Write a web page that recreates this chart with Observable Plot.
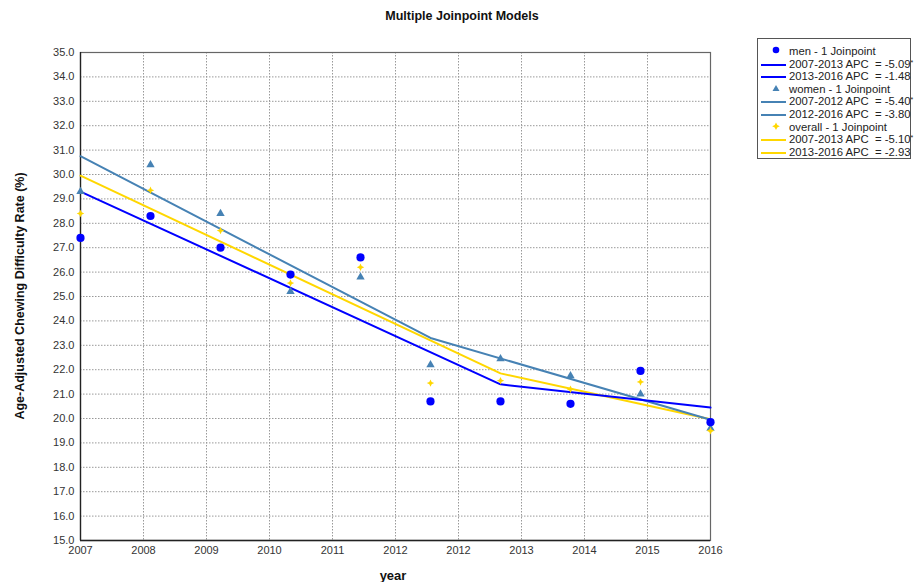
<!DOCTYPE html>
<html><head><meta charset="utf-8">
<script src="https://cdn.jsdelivr.net/npm/d3@7"></script>
<script src="https://cdn.jsdelivr.net/npm/@observablehq/plot@0.6"></script>
<style>
body{margin:0;background:#fff;font-family:"Liberation Sans",Arial,sans-serif;}
#wrap{position:relative;width:914px;height:582px;overflow:hidden;background:#fff;}
#chart{position:absolute;left:0;top:0;}
#title{position:absolute;left:0;width:924px;top:9px;text-align:center;font-weight:bold;font-size:12.5px;color:#111;}
#ylab{position:absolute;left:20px;top:296px;transform:translate(-50%,-50%) rotate(-90deg);white-space:nowrap;font-weight:bold;font-size:12.5px;color:#111;}
#xlab{position:absolute;left:393px;top:575px;transform:translate(-50%,-50%);font-weight:bold;font-size:13px;color:#111;}
#legend{position:absolute;left:757px;top:38px;width:154px;height:121px;border:1px solid #555;background:#fff;box-sizing:border-box;}
.row{position:absolute;left:0;height:13px;width:152px;font-size:11.3px;color:#222;line-height:13px;white-space:pre;}
.row svg{position:absolute;left:0;top:0;}
.row span{position:absolute;left:31px;top:0;}
sup{font-size:7px;vertical-align:top;line-height:9px;}
</style></head>
<body>
<div id="wrap">
  <div id="chart"></div>
  <div id="title">Multiple Joinpoint Models</div>
  <div id="ylab">Age-Adjusted Chewing Difficulty Rate (%)</div>
  <div id="xlab">year</div>
  <div id="legend"></div>
</div>
<script>
// ---- data ----
const years = [2007, 2008, 2009, 2010, 2011, 2012, 2013, 2014, 2015, 2016];
const menObs = [27.4, 28.3, 27.0, 25.9, 26.6, 20.7, 20.7, 20.6, 21.95, 19.85];
const womenObs = [29.3, 30.4, 28.4, 25.2, 25.8, 22.2, 22.45, 21.75, 21.0, 19.6];
const overallObs = [28.4, 29.35, 27.7, 25.55, 26.2, 21.45, 21.55, 21.2, 21.5, 19.5];

const menFitYears = [2007, 2013, 2016];
const menFit = [29.3, 21.4, 20.45];
const womenFitYears = [2007, 2012, 2016];
const womenFit = [30.75, 23.3, 19.95];
const overallFitYears = [2007, 2013, 2016];
const overallFit = [29.95, 21.85, 19.97];

const xTicks = [2007, 2007.9, 2008.8, 2009.7, 2010.6, 2011.5, 2012.4, 2013.3, 2014.2, 2015.1, 2016];
const xTickLabels = ["2007","2008","2009","2010","2011","2012","2012","2013","2014","2015","2016"];
const yTicks = [15,16,17,18,19,20,21,22,23,24,25,26,27,28,29,30,31,32,33,34,35];

const legendLabels = [
  "men - 1 Joinpoint", "2007-2013 APC  = -5.09*", "2013-2016 APC  = -1.48",
  "women - 1 Joinpoint", "2007-2012 APC  = -5.40*", "2012-2016 APC  = -3.80",
  "overall - 1 Joinpoint", "2007-2013 APC  = -5.10*", "2013-2016 APC  = -2.93"
];

// ---- styles ----
const C_MEN = "#0000FF", C_WOMEN = "#4682B4", C_ALL = "#FFD700";

const sparkle = {
  draw(ctx, size) {
    const R = Math.sqrt(size / Math.PI) * 1.1, r = R * 0.45;
    for (let k = 0; k < 8; k++) {
      const a = k * Math.PI / 4 - Math.PI / 2;
      const rr = k % 2 === 0 ? R : r;
      const px = rr * Math.cos(a), py = rr * Math.sin(a);
      if (k === 0) ctx.moveTo(px, py); else ctx.lineTo(px, py);
    }
    ctx.closePath();
  }
};

const pts = (xs, ys) => xs.map((x, i) => ({x, y: ys[i]}));
const men = pts(years, menObs), women = pts(years, womenObs), overall = pts(years, overallObs);
const menL = pts(menFitYears, menFit), womenL = pts(womenFitYears, womenFit), overallL = pts(overallFitYears, overallFit);

const chart = Plot.plot({
  width: 914, height: 582,
  marginLeft: 80, marginRight: 204, marginTop: 52, marginBottom: 42,
  style: {fontFamily: "Liberation Sans, Arial, sans-serif", fontSize: "11px", color: "#333", background: "transparent"},
  x: {domain: [2007, 2016], ticks: xTicks, tickFormat: d => xTickLabels[xTicks.indexOf(d)], tickSize: 0, tickPadding: 6, label: null},
  y: {domain: [15, 35], ticks: yTicks, tickFormat: d => d.toFixed(1), tickSize: 0, tickPadding: 6, label: null},
  marks: [
    Plot.ruleX(xTicks.slice(1, -1), {stroke: "#999", strokeDasharray: "1.5,1.5", strokeWidth: 1}),
    Plot.ruleY(yTicks.slice(1, -1), {stroke: "#999", strokeDasharray: "1.5,1.5", strokeWidth: 1}),
    Plot.frame({stroke: "#666", strokeWidth: 1.2}),
    Plot.ruleX([2007], {stroke: "#222", strokeWidth: 1.3}),
    Plot.ruleY([15], {stroke: "#222", strokeWidth: 1.3}),
    Plot.line(overallL, {x: "x", y: "y", stroke: C_ALL, strokeWidth: 2}),
    Plot.line(womenL, {x: "x", y: "y", stroke: C_WOMEN, strokeWidth: 2}),
    Plot.line(menL, {x: "x", y: "y", stroke: C_MEN, strokeWidth: 2}),
    Plot.dot(women, {x: "x", y: "y", symbol: "triangle", r: 3.1, fill: C_WOMEN, stroke: "none"}),
    Plot.dot(overall, {x: "x", y: "y", symbol: sparkle, r: 3.4, fill: C_ALL, stroke: "none"}),
    Plot.dot(men, {x: "x", y: "y", r: 4.1, fill: C_MEN, stroke: "none"})
  ]
});
document.getElementById("chart").appendChild(chart);

// ---- legend ----
const legend = document.getElementById("legend");
const kinds = ["circle", "line", "line", "triangle", "line", "line", "sparkle", "line", "line"];
const cols = [C_MEN, C_MEN, C_MEN, C_WOMEN, C_WOMEN, C_WOMEN, C_ALL, C_ALL, C_ALL];
legendLabels.forEach((t, i) => {
  const row = document.createElement("div");
  row.className = "row";
  row.style.top = (6 + i * 12.6) + "px";
  let sw = "";
  if (kinds[i] === "line") sw = `<line x1="3" x2="28" y1="7" y2="7" stroke="${cols[i]}" stroke-width="2"/>`;
  else if (kinds[i] === "circle") sw = `<circle cx="18" cy="5" r="3.3" fill="${cols[i]}"/>`;
  else if (kinds[i] === "triangle") sw = `<path d="M18,2 L21.5,8 L14.5,8 Z" fill="${cols[i]}"/>`;
  else sw = `<path d="M18,1.5 L19.3,4 L21.8,5.3 L19.3,6.6 L18,9.1 L16.7,6.6 L14.2,5.3 L16.7,4 Z" fill="${cols[i]}"/>`;
  const txt = t.endsWith("*") ? t.slice(0, -1) + "<sup>*</sup>" : t;
  row.innerHTML = `<svg width="30" height="13">${sw}</svg><span>${txt}</span>`;
  legend.appendChild(row);
});
</script>
</body></html>
